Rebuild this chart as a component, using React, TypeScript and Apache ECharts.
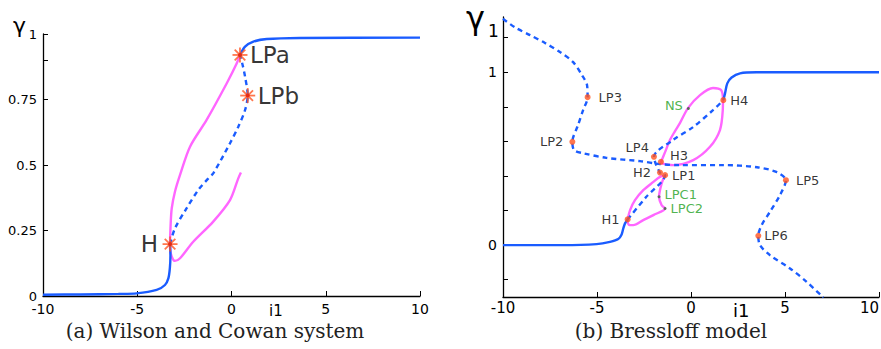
import React, { useEffect, useRef } from "react";
import * as echarts from "echarts";

// ---------- axis values ----------
const xRange = [-10, 10];
const xTickStep = 5;
const aYRange = [0, 1];
const aYLabelValues = [0, 0.25, 0.5, 0.75, 1];
const aYTickValues = [0, 0.25, 0.5, 0.75, 0.9, 1];
const bYRange = [-0.3, 1.32];
const bYLabelValues = [0, 1];
const bYTickValues = [-0.2, 0, 0.2, 0.4, 0.6, 0.8, 1.0, 1.2];

// ---------- panel (a) Wilson and Cowan ----------
const aStableLow = [[-10, 0.005], [-8, 0.006], [-6, 0.008], [-5.03, 0.01], [-3.97, 0.023], [-3.53, 0.042], [-3.35, 0.067], [-3.27, 0.106], [-3.24, 0.156], [-3.26, 0.198]];
const aUnstable = [[-3.26, 0.198], [-3.0, 0.258], [-2.38, 0.335], [-1.76, 0.405], [-1.23, 0.449], [-0.97, 0.468], [-0.08, 0.583], [0.36, 0.646], [0.72, 0.71], [0.86, 0.765], [0.72, 0.837], [0.59, 0.882], [0.45, 0.92]];
const aStableHigh = [[0.45, 0.92], [0.72, 0.952], [1.16, 0.971], [1.87, 0.981], [3.63, 0.985], [10, 0.986]];
const aCycle = [[0.5, 0.471], [0.36, 0.449], [-0.08, 0.366], [-0.97, 0.284], [-2.03, 0.207], [-2.73, 0.144], [-3.0, 0.134], [-3.17, 0.15], [-3.26, 0.182], [-3.26, 0.198], [-3.23, 0.271], [-3.17, 0.335], [-3.0, 0.398], [-2.73, 0.462], [-2.2, 0.57], [-1.32, 0.672], [-0.25, 0.812], [0.28, 0.888], [0.45, 0.92]];
const aPointNames = ["H", "LPa", "LPb"];
const aPointX = [-3.26, 0.45, 0.86];
const aPointY = [0.198, 0.92, 0.765];

// ---------- panel (b) Bressloff ----------
const bStableLow = [[-10, 0], [-6.8, 0], [-5.02, 0.006], [-4.31, 0.019], [-3.87, 0.035], [-3.69, 0.062], [-3.6, 0.097], [-3.51, 0.126], [-3.37, 0.149]];
const bStableHigh = [[1.72, 0.839], [1.81, 0.878], [1.93, 0.936], [2.16, 0.97], [2.61, 0.994], [3.49, 1.0], [10, 1.0]];
const bUnstableInner = [[-3.37, 0.149], [-2.39, 0.278], [-1.38, 0.405], [-1.65, 0.42], [-1.97, 0.511], [-0.96, 0.608], [0.11, 0.683], [1.17, 0.781], [1.72, 0.839]];
const bUnstableOuter = [[-10, 1.31], [-9.36, 1.26], [-8.56, 1.215], [-7.77, 1.17], [-6.97, 1.117], [-6.28, 1.06], [-5.8, 0.984], [-5.53, 0.926], [-5.5, 0.856], [-5.74, 0.781], [-6.01, 0.694], [-6.31, 0.598], [-6.22, 0.55], [-5.74, 0.532], [-4.5, 0.505], [-2.71, 0.486], [-1.65, 0.469], [-0.59, 0.463], [1.7, 0.463], [3.51, 0.451], [4.57, 0.422], [5.05, 0.376], [4.73, 0.289], [4.2, 0.193], [3.76, 0.116], [3.58, 0.054], [3.67, 0.0], [4.2, -0.058], [5.27, -0.135], [6.15, -0.212], [7.04, -0.303]];
const bCycleLow = [[-3.37, 0.149], [-3.24, 0.203], [-2.98, 0.26], [-2.54, 0.318], [-2.0, 0.366], [-1.65, 0.395], [-1.38, 0.405], [-1.5, 0.376], [-1.61, 0.337], [-1.7, 0.28], [-1.56, 0.231], [-1.38, 0.212], [-2.0, 0.174], [-2.54, 0.145], [-3.07, 0.116], [-3.28, 0.116], [-3.37, 0.135], [-3.37, 0.149]];
const bCycleHigh = [[-1.6, 0.48], [-1.38, 0.538], [-1.12, 0.608], [-0.85, 0.66], [-0.59, 0.706], [-0.16, 0.793], [0.48, 0.868], [1.17, 0.909], [1.6, 0.897], [1.7, 0.839], [1.69, 0.781], [1.54, 0.666], [1.01, 0.569], [0.12, 0.492], [-0.94, 0.463], [-1.56, 0.473], [-1.6, 0.48]];
const bPointNames = ["H1", "LP1", "H2", "H3", "LP4", "H4", "LP3", "LP2", "LP5", "LP6"];
const bPointX = [-3.37, -1.38, -1.65, -1.6, -1.97, 1.72, -5.5, -6.31, 5.05, 3.58];
const bPointY = [0.149, 0.405, 0.42, 0.482, 0.511, 0.839, 0.856, 0.598, 0.376, 0.054];
const bGreenNames = ["NS", "LPC1", "LPC2"];
const bGreenX = [-0.14, -1.7, -1.38];
const bGreenY = [0.791, 0.28, 0.212];

// ---------- styles ----------
const BLUE = "#1a5cff";
const MAGENTA = "#ff66ff";
const RED = "#ff5420";
const GREEN = "#22a022";
const SANS = "DejaVu Sans";

const aLabelPos: Record<string, any> = {
  H: { position: "left", distance: 10 },
  LPa: { position: "right", distance: 8 },
  LPb: { position: "right", distance: 8 },
};
const bLabelPos: Record<string, any> = {
  H1: { position: "left", distance: 5 },
  LP1: { position: "right", distance: 4 },
  H2: { position: "left", distance: 6 },
  H3: { position: "right", distance: 6, offset: [0, -6] },
  LP4: { position: "left", distance: 2, offset: [0, -9] },
  H4: { position: "right", distance: 4 },
  LP3: { position: "right", distance: 8 },
  LP2: { position: "left", distance: 6 },
  LP5: { position: "right", distance: 7 },
  LP6: { position: "right", distance: 3 },
  NS: { position: "left", distance: 4, offset: [0, -3] },
  LPC1: { position: "right", distance: 4, offset: [0, -2] },
  LPC2: { position: "right", distance: 4 },
};

function line(data: number[][], idx: number, color: string, dashed: boolean, z = 2) {
  return {
    type: "line",
    xAxisIndex: idx,
    yAxisIndex: idx,
    data,
    symbol: "none",
    smooth: 0.3,
    z,
    silent: true,
    lineStyle: { color, width: 2.4, type: dashed ? [5, 4] : "solid", cap: "butt" },
  };
}

function App() {
  const ref = useRef<HTMLDivElement>(null);
  useEffect(() => {
    if (!ref.current) return;
    const chart = echarts.init(ref.current, null, { renderer: "svg" });

    const aPts = aPointNames.map((n, i) => ({ name: n, value: [aPointX[i], aPointY[i]] }));
    const bPts = bPointNames.map((n, i) => ({ name: n, value: [bPointX[i], bPointY[i]] }));
    const gPts = bGreenNames.map((n, i) => ({ name: n, value: [bGreenX[i], bGreenY[i]] }));

    const starArms = [0, 45, 90, 135].map((rot) => ({
      type: "scatter",
      xAxisIndex: 0,
      yAxisIndex: 0,
      data: aPts.map((p) => ({ value: p.value })),
      symbol: "rect",
      symbolSize: [15, 1.8],
      symbolRotate: rot,
      itemStyle: { color: RED },
      z: 5,
      silent: true,
    }));

    const axisCommon = {
      type: "value",
      axisLine: { show: true, onZero: false, lineStyle: { color: "#000", width: 1.3 } },
      splitLine: { show: false },
    };

    const option: any = {
      animation: false,
      backgroundColor: "#fff",
      grid: [
        { left: 43, top: 34, width: 377, height: 262, containLabel: false, outerBoundsMode: "none" },
        { left: 503, top: 17, width: 376, height: 280, containLabel: false, outerBoundsMode: "none" },
      ],
      xAxis: [
        {
          ...axisCommon,
          gridIndex: 0,
          min: xRange[0],
          max: xRange[1],
          interval: xTickStep,
          axisTick: { inside: true, length: 5, lineStyle: { color: "#000" } },
          axisLabel: { color: "#000", fontSize: 14, fontFamily: SANS, margin: 7, lineHeight: 12 },
        },
        {
          ...axisCommon,
          gridIndex: 1,
          min: xRange[0],
          max: xRange[1],
          interval: xTickStep,
          axisTick: { inside: true, length: 5, lineStyle: { color: "#000" } },
          axisLabel: { color: "#000", fontSize: 15, fontFamily: SANS, margin: 4, lineHeight: 14, alignMaxLabel: "right" },
        },
      ],
      yAxis: [
        {
          ...axisCommon,
          gridIndex: 0,
          min: aYRange[0],
          max: aYRange[1],
          axisTick: { inside: true, length: 5, customValues: aYTickValues, lineStyle: { color: "#000" } },
          axisLabel: { color: "#000", fontSize: 13, fontFamily: SANS, margin: 6, lineHeight: 10, customValues: aYLabelValues },
        },
        {
          ...axisCommon,
          gridIndex: 1,
          min: bYRange[0],
          max: bYRange[1],
          axisTick: { inside: true, length: 5, customValues: bYTickValues, lineStyle: { color: "#000" } },
          axisLabel: { color: "#000", fontSize: 14, fontFamily: SANS, margin: 6, customValues: bYLabelValues },
        },
      ],
      graphic: [
        { type: "text", left: 13, top: 14, style: { text: "γ", font: `22px "${SANS}"`, fill: "#000" } },
        { type: "text", x: 466, y: 18, style: { text: "γ", font: `32px "${SANS}"`, fill: "#000", verticalAlign: "middle", lineHeight: 28 } },
        { type: "text", left: 488, top: 22, style: { text: "1", font: `17px "${SANS}"`, fill: "#000" } },
        { type: "text", left: 269, top: 303, style: { text: "i1", font: `15px "${SANS}"`, fill: "#000" } },
        { type: "text", left: 733, top: 301, style: { text: "i1", font: `18px "${SANS}"`, fill: "#000" } },
        {
          type: "text",
          x: 215,
          y: 331,
          style: { text: "(a) Wilson and Cowan system", font: `20px "DejaVu Serif"`, fill: "#222", align: "center", verticalAlign: "middle" },
        },
        {
          type: "text",
          x: 671,
          y: 331,
          style: { text: "(b) Bressloff model", font: `20px "DejaVu Serif"`, fill: "#222", align: "center", verticalAlign: "middle" },
        },
      ],
      series: [
        line(aStableLow, 0, BLUE, false, 3),
        line(aUnstable, 0, BLUE, true, 3),
        line(aStableHigh, 0, BLUE, false, 3),
        line(aCycle, 0, MAGENTA, false, 2),
        ...starArms,
        {
          type: "scatter",
          xAxisIndex: 0,
          yAxisIndex: 0,
          data: aPts.map((p) => ({ ...p, label: { show: true, ...aLabelPos[p.name] } })),
          symbol: "circle",
          symbolSize: 4,
          itemStyle: { color: "#e02010" },
          z: 6,
          silent: true,
          label: { show: true, formatter: "{b}", color: "#000", fontSize: 23, fontFamily: SANS },
        },
        line(bStableLow, 1, BLUE, false, 3),
        line(bStableHigh, 1, BLUE, false, 3),
        line(bUnstableInner, 1, BLUE, true, 3),
        line(bUnstableOuter, 1, BLUE, true, 3),
        line(bCycleLow, 1, MAGENTA, false, 2),
        line(bCycleHigh, 1, MAGENTA, false, 2),
        {
          type: "scatter",
          xAxisIndex: 1,
          yAxisIndex: 1,
          data: bPts.map((p) => ({ ...p, label: { show: true, ...bLabelPos[p.name] } })),
          symbol: "circle",
          symbolSize: 6,
          itemStyle: { color: RED },
          z: 6,
          silent: true,
          label: { show: true, formatter: "{b}", color: "#000", fontSize: 13, fontFamily: SANS },
        },
        {
          type: "scatter",
          xAxisIndex: 1,
          yAxisIndex: 1,
          data: gPts.map((p) => ({ ...p, label: { show: true, ...bLabelPos[p.name] } })),
          symbol: "circle",
          symbolSize: 3,
          itemStyle: { color: "#336633" },
          z: 6,
          silent: true,
          label: { show: true, formatter: "{b}", color: GREEN, fontSize: 13, fontFamily: SANS },
        },
      ],
    };
    chart.setOption(option);
    return () => chart.dispose();
  }, []);
  return (
    <div
      ref={ref}
      style={{ position: "fixed", left: 0, top: 0, width: 881, height: 349, background: "#fff" }}
    />
  );
}

export default App;
